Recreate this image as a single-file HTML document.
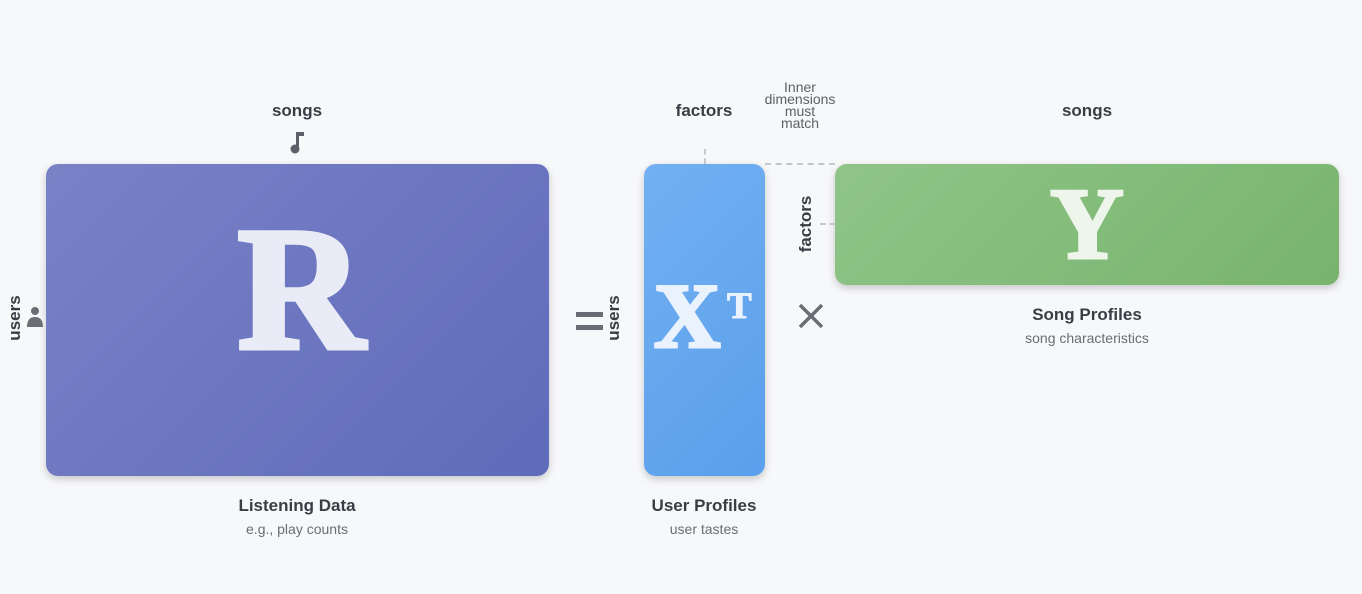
<!DOCTYPE html>
<html><head><meta charset="utf-8"><style>
body{margin:0;width:1362px;height:594px;background:#f7f8fa;position:relative;overflow:hidden;font-family:"Liberation Sans",sans-serif}
.a{position:absolute}
.box{position:absolute;border-radius:12px;box-shadow:0 3px 8px rgba(0,0,0,.2)}
.lbl{position:absolute;color:#3a3d44;font-weight:bold;font-size:17px;text-align:center;white-space:nowrap}
.t{position:absolute;text-align:center;white-space:nowrap}
.big{font-family:"Liberation Serif",serif;font-weight:bold;color:#e9ebf7;position:absolute;text-align:center;line-height:1;-webkit-text-stroke:5px currentColor}
.rot{position:absolute;transform:rotate(-90deg);transform-origin:center;color:#3a3d44;font-weight:bold;font-size:17px;white-space:nowrap}
.dash{position:absolute;border-color:#c4c7cc;border-style:dashed;border-width:0}
</style></head><body>
<div class="box" style="left:46px;top:164px;width:503px;height:312px;background:linear-gradient(135deg,#7a82c6,#5f6bbb)"></div>
<div class="big" style="left:46px;top:202px;width:510px;font-size:176px">R</div>
<div class="box" style="left:644px;top:164px;width:121px;height:312px;background:linear-gradient(135deg,#72b0f1,#5a9fec)"></div>
<div class="big" style="left:654px;top:270px;font-size:92px;color:#eaf3fd;-webkit-text-stroke:3px #eaf3fd">X</div>
<div class="big" style="left:727px;top:288px;font-size:37px;color:#eaf3fd;-webkit-text-stroke:1px #eaf3fd">T</div>
<div class="box" style="left:835px;top:164px;width:504px;height:121px;background:linear-gradient(135deg,#90c489,#78b46d)"></div>
<div class="big" style="left:835px;top:174px;width:504px;font-size:102px;color:#eef6ec;-webkit-text-stroke:3px #eef6ec">Y</div>

<div class="lbl" style="left:247px;top:101px;width:100px">songs</div>
<svg class="a" style="left:288px;top:131px" width="18" height="24"><rect x="8" y="1" width="3" height="18" fill="#5d6068"/><rect x="8" y="1" width="8" height="4" fill="#5d6068"/><circle cx="7" cy="18" r="4.5" fill="#5d6068"/></svg>
<div class="lbl" style="left:654px;top:101px;width:100px">factors</div>
<div class="lbl" style="left:1037px;top:101px;width:100px">songs</div>
<div class="t" style="left:740px;top:81px;width:120px;font-size:14px;line-height:12px;color:#5d6068">Inner<br>dimensions<br>must<br>match</div>

<div class="rot" style="left:-10px;top:308px;width:50px;text-align:center">users</div>
<svg class="a" style="left:26px;top:306px" width="20" height="22"><circle cx="9" cy="5" r="4" fill="#6a6d74"/><path d="M1 21 Q1 11 9 11 Q17 11 17 21Z" fill="#6a6d74"/></svg>
<div class="rot" style="left:589px;top:308px;width:50px;text-align:center">users</div>
<div class="rot" style="left:771px;top:214px;width:70px;text-align:center">factors</div>

<div class="a" style="left:576px;top:312px;width:27px;height:5px;background:#6a6d74"></div>
<div class="a" style="left:576px;top:325px;width:27px;height:5px;background:#6a6d74"></div>
<svg class="a" style="left:798px;top:303px" width="26" height="26"><path d="M2 2L24 24M24 2L2 24" stroke="#6a6d74" stroke-width="3.5"/></svg>

<div class="dash" style="left:704px;top:149px;height:15px;border-left-width:2px"></div>
<div class="dash" style="left:765px;top:163px;width:70px;border-top-width:2px"></div>
<div class="dash" style="left:820px;top:223px;width:15px;border-top-width:2px"></div>

<div class="lbl" style="left:197px;top:496px;width:200px">Listening Data</div>
<div class="t" style="left:197px;top:521px;width:200px;font-size:14px;color:#6a6d74">e.g., play counts</div>
<div class="lbl" style="left:604px;top:496px;width:200px">User Profiles</div>
<div class="t" style="left:604px;top:521px;width:200px;font-size:14px;color:#6a6d74">user tastes</div>
<div class="lbl" style="left:987px;top:305px;width:200px">Song Profiles</div>
<div class="t" style="left:967px;top:330px;width:240px;font-size:14px;color:#6a6d74">song characteristics</div>
</body></html>
